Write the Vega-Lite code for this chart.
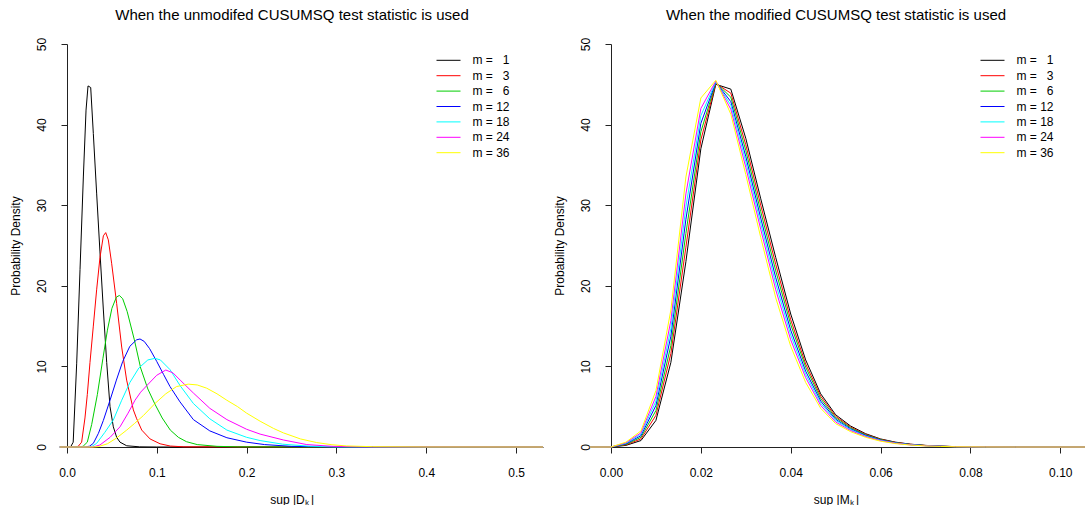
{
"$schema": "https://vega.github.io/schema/vega-lite/v6.json",
"padding": {"left": 9, "top": 8, "right": 0, "bottom": 0},
"background": "white",
"config": {
  "font": "Liberation Sans",
  "view": {"stroke": null},
  "axis": {"labelFont": "Liberation Sans", "labelFontSize": 12, "labelColor": "#000", "titleFont": "Liberation Sans", "titleFontSize": 12, "titleFontWeight": "normal", "titleColor": "#000", "domainColor": "#222", "tickColor": "#222", "grid": false, "tickSize": 6, "labelFlush": false, "labelOverlap": false},
  "title": {"font": "Liberation Sans", "fontSize": 15, "fontWeight": "normal", "color": "#000"},
  "legend": {"labelFont": "Liberation Sans", "labelFontSize": 12, "labelColor": "#000"}
},
"datasets": {
"left": [
{"m":1,"x":-0.008,"y":0},{"m":1,"x":0.004,"y":0},{"m":1,"x":0.0069,"y":0.6},{"m":1,"x":0.0108,"y":10.4},{"m":1,"x":0.0145,"y":22},{"m":1,"x":0.0182,"y":33.5},{"m":1,"x":0.0212,"y":41.8},{"m":1,"x":0.0234,"y":44.8},{"m":1,"x":0.0264,"y":44.6},{"m":1,"x":0.0293,"y":38.9},{"m":1,"x":0.033,"y":31.5},{"m":1,"x":0.0367,"y":24.2},{"m":1,"x":0.0405,"y":17},{"m":1,"x":0.0442,"y":10.5},{"m":1,"x":0.0479,"y":5},{"m":1,"x":0.0516,"y":2.5},{"m":1,"x":0.0553,"y":1.2},{"m":1,"x":0.059,"y":0.6},{"m":1,"x":0.0665,"y":0.15},{"m":1,"x":0.081,"y":0.02},{"m":1,"x":0.1,"y":0},{"m":1,"x":0.53,"y":0},
{"m":3,"x":-0.008,"y":0},{"m":3,"x":0.01,"y":0},{"m":3,"x":0.0126,"y":0.1},{"m":3,"x":0.0163,"y":0.6},{"m":3,"x":0.02,"y":3.6},{"m":3,"x":0.0226,"y":6.5},{"m":3,"x":0.0256,"y":10.5},{"m":3,"x":0.0293,"y":15},{"m":3,"x":0.033,"y":19.5},{"m":3,"x":0.0367,"y":23.5},{"m":3,"x":0.0405,"y":26.2},{"m":3,"x":0.0431,"y":26.6},{"m":3,"x":0.046,"y":25.7},{"m":3,"x":0.0497,"y":22.8},{"m":3,"x":0.0553,"y":17.8},{"m":3,"x":0.0609,"y":12.4},{"m":3,"x":0.0664,"y":8.3},{"m":3,"x":0.0739,"y":4.6},{"m":3,"x":0.0776,"y":3.5},{"m":3,"x":0.0832,"y":2.1},{"m":3,"x":0.0925,"y":1.0},{"m":3,"x":0.1036,"y":0.4},{"m":3,"x":0.115,"y":0.12},{"m":3,"x":0.13,"y":0.02},{"m":3,"x":0.53,"y":0},
{"m":6,"x":-0.008,"y":0},{"m":6,"x":0.015,"y":0},{"m":6,"x":0.018,"y":0.1},{"m":6,"x":0.0226,"y":0.6},{"m":6,"x":0.0275,"y":2.8},{"m":6,"x":0.0338,"y":6.5},{"m":6,"x":0.04,"y":11},{"m":6,"x":0.045,"y":14.5},{"m":6,"x":0.05,"y":17.2},{"m":6,"x":0.055,"y":18.6},{"m":6,"x":0.0583,"y":18.8},{"m":6,"x":0.062,"y":18.4},{"m":6,"x":0.067,"y":16.8},{"m":6,"x":0.075,"y":13.3},{"m":6,"x":0.082,"y":9.8},{"m":6,"x":0.09,"y":7.2},{"m":6,"x":0.098,"y":5.3},{"m":6,"x":0.106,"y":3.6},{"m":6,"x":0.115,"y":2.1},{"m":6,"x":0.124,"y":1.2},{"m":6,"x":0.133,"y":0.66},{"m":6,"x":0.145,"y":0.3},{"m":6,"x":0.167,"y":0.08},{"m":6,"x":0.19,"y":0.02},{"m":6,"x":0.53,"y":0},
{"m":12,"x":-0.008,"y":0},{"m":12,"x":0.02,"y":0},{"m":12,"x":0.025,"y":0.1},{"m":12,"x":0.0293,"y":0.45},{"m":12,"x":0.035,"y":1.7},{"m":12,"x":0.0405,"y":3.3},{"m":12,"x":0.0479,"y":5.8},{"m":12,"x":0.055,"y":8.3},{"m":12,"x":0.062,"y":10.6},{"m":12,"x":0.07,"y":12.5},{"m":12,"x":0.0775,"y":13.3},{"m":12,"x":0.0813,"y":13.4},{"m":12,"x":0.086,"y":13.1},{"m":12,"x":0.092,"y":12.2},{"m":12,"x":0.1,"y":10.6},{"m":12,"x":0.1075,"y":9.0},{"m":12,"x":0.1147,"y":7.5},{"m":12,"x":0.1258,"y":5.6},{"m":12,"x":0.1407,"y":3.4},{"m":12,"x":0.159,"y":2.0},{"m":12,"x":0.178,"y":1.15},{"m":12,"x":0.2,"y":0.6},{"m":12,"x":0.22,"y":0.3},{"m":12,"x":0.25,"y":0.08},{"m":12,"x":0.3,"y":0.01},{"m":12,"x":0.53,"y":0},
{"m":18,"x":-0.008,"y":0},{"m":18,"x":0.024,"y":0},{"m":18,"x":0.028,"y":0.1},{"m":18,"x":0.033,"y":0.45},{"m":18,"x":0.042,"y":1.8},{"m":18,"x":0.0516,"y":3.35},{"m":18,"x":0.0609,"y":5.8},{"m":18,"x":0.07,"y":8.0},{"m":18,"x":0.08,"y":9.8},{"m":18,"x":0.09,"y":10.8},{"m":18,"x":0.098,"y":11.0},{"m":18,"x":0.104,"y":10.8},{"m":18,"x":0.1147,"y":9.6},{"m":18,"x":0.126,"y":7.6},{"m":18,"x":0.1407,"y":5.4},{"m":18,"x":0.159,"y":3.5},{"m":18,"x":0.178,"y":2.1},{"m":18,"x":0.2,"y":1.2},{"m":18,"x":0.215,"y":0.8},{"m":18,"x":0.24,"y":0.35},{"m":18,"x":0.27,"y":0.1},{"m":18,"x":0.3,"y":0.02},{"m":18,"x":0.53,"y":0},
{"m":24,"x":-0.008,"y":0},{"m":24,"x":0.028,"y":0},{"m":24,"x":0.032,"y":0.1},{"m":24,"x":0.0367,"y":0.25},{"m":24,"x":0.048,"y":1.2},{"m":24,"x":0.059,"y":2.5},{"m":24,"x":0.068,"y":4.2},{"m":24,"x":0.0757,"y":5.8},{"m":24,"x":0.082,"y":6.8},{"m":24,"x":0.0887,"y":7.6},{"m":24,"x":0.0999,"y":8.9},{"m":24,"x":0.11,"y":9.55},{"m":24,"x":0.118,"y":9.2},{"m":24,"x":0.126,"y":8.3},{"m":24,"x":0.1407,"y":6.7},{"m":24,"x":0.159,"y":4.8},{"m":24,"x":0.178,"y":3.4},{"m":24,"x":0.2,"y":2.2},{"m":24,"x":0.215,"y":1.6},{"m":24,"x":0.241,"y":0.87},{"m":24,"x":0.267,"y":0.3},{"m":24,"x":0.296,"y":0.08},{"m":24,"x":0.33,"y":0.02},{"m":24,"x":0.53,"y":0},
{"m":36,"x":-0.008,"y":0},{"m":36,"x":0.03,"y":0},{"m":36,"x":0.035,"y":0.05},{"m":36,"x":0.045,"y":0.4},{"m":36,"x":0.055,"y":1.1},{"m":36,"x":0.0665,"y":2.1},{"m":36,"x":0.075,"y":2.9},{"m":36,"x":0.085,"y":3.9},{"m":36,"x":0.098,"y":5.4},{"m":36,"x":0.11,"y":6.6},{"m":36,"x":0.122,"y":7.5},{"m":36,"x":0.135,"y":7.8},{"m":36,"x":0.145,"y":7.7},{"m":36,"x":0.1555,"y":7.3},{"m":36,"x":0.167,"y":6.6},{"m":36,"x":0.178,"y":5.8},{"m":36,"x":0.19,"y":5.0},{"m":36,"x":0.2,"y":4.2},{"m":36,"x":0.215,"y":3.2},{"m":36,"x":0.23,"y":2.3},{"m":36,"x":0.241,"y":1.75},{"m":36,"x":0.26,"y":1.0},{"m":36,"x":0.278,"y":0.55},{"m":36,"x":0.295,"y":0.28},{"m":36,"x":0.311,"y":0.13},{"m":36,"x":0.34,"y":0.04},{"m":36,"x":0.4,"y":0.005},{"m":36,"x":0.53,"y":0}
],
"right": [
{"m":1,"x":-0.0047,"y":0},{"m":1,"x":0,"y":0},{"m":1,"x":0.00333,"y":0.2},{"m":1,"x":0.00667,"y":0.8},{"m":1,"x":0.01,"y":3.3},{"m":1,"x":0.01333,"y":10.5},{"m":1,"x":0.01667,"y":23.0},{"m":1,"x":0.02,"y":37.0},{"m":1,"x":0.02333,"y":45.0},{"m":1,"x":0.02667,"y":44.4},{"m":1,"x":0.03,"y":38.3},{"m":1,"x":0.03333,"y":30.8},{"m":1,"x":0.03667,"y":23.5},{"m":1,"x":0.04,"y":16.5},{"m":1,"x":0.04333,"y":10.8},{"m":1,"x":0.04667,"y":6.6},{"m":1,"x":0.05,"y":4.0},{"m":1,"x":0.05333,"y":2.6},{"m":1,"x":0.05667,"y":1.65},{"m":1,"x":0.06,"y":1.0},{"m":1,"x":0.06333,"y":0.6},{"m":1,"x":0.06667,"y":0.35},{"m":1,"x":0.07,"y":0.2},{"m":1,"x":0.07333,"y":0.1},{"m":1,"x":0.07667,"y":0.05},{"m":1,"x":0.08,"y":0.03},{"m":1,"x":0.08333,"y":0.01},{"m":1,"x":0.09,"y":0},{"m":1,"x":0.1055,"y":0},
{"m":3,"x":-0.0047,"y":0},{"m":3,"x":0,"y":0},{"m":3,"x":0.00333,"y":0.27},{"m":3,"x":0.00667,"y":1.0},{"m":3,"x":0.01,"y":3.93},{"m":3,"x":0.01333,"y":11.6},{"m":3,"x":0.01667,"y":24.8},{"m":3,"x":0.02,"y":38.1},{"m":3,"x":0.02333,"y":45.1},{"m":3,"x":0.02667,"y":43.9},{"m":3,"x":0.03,"y":37.5},{"m":3,"x":0.03333,"y":30.0},{"m":3,"x":0.03667,"y":22.65},{"m":3,"x":0.04,"y":15.8},{"m":3,"x":0.04333,"y":10.3},{"m":3,"x":0.04667,"y":6.3},{"m":3,"x":0.05,"y":3.8},{"m":3,"x":0.05333,"y":2.48},{"m":3,"x":0.05667,"y":1.57},{"m":3,"x":0.06,"y":0.95},{"m":3,"x":0.06333,"y":0.57},{"m":3,"x":0.06667,"y":0.33},{"m":3,"x":0.07,"y":0.19},{"m":3,"x":0.07333,"y":0.1},{"m":3,"x":0.07667,"y":0.05},{"m":3,"x":0.08,"y":0.03},{"m":3,"x":0.08333,"y":0.01},{"m":3,"x":0.09,"y":0},{"m":3,"x":0.1055,"y":0},
{"m":6,"x":-0.0047,"y":0},{"m":6,"x":0,"y":0},{"m":6,"x":0.00333,"y":0.33},{"m":6,"x":0.00667,"y":1.2},{"m":6,"x":0.01,"y":4.52},{"m":6,"x":0.01333,"y":12.6},{"m":6,"x":0.01667,"y":26.5},{"m":6,"x":0.02,"y":39.1},{"m":6,"x":0.02333,"y":45.2},{"m":6,"x":0.02667,"y":43.4},{"m":6,"x":0.03,"y":36.8},{"m":6,"x":0.03333,"y":29.2},{"m":6,"x":0.03667,"y":21.85},{"m":6,"x":0.04,"y":15.2},{"m":6,"x":0.04333,"y":9.9},{"m":6,"x":0.04667,"y":6.0},{"m":6,"x":0.05,"y":3.64},{"m":6,"x":0.05333,"y":2.37},{"m":6,"x":0.05667,"y":1.5},{"m":6,"x":0.06,"y":0.91},{"m":6,"x":0.06333,"y":0.54},{"m":6,"x":0.06667,"y":0.31},{"m":6,"x":0.07,"y":0.18},{"m":6,"x":0.07333,"y":0.09},{"m":6,"x":0.07667,"y":0.05},{"m":6,"x":0.08,"y":0.03},{"m":6,"x":0.08333,"y":0.01},{"m":6,"x":0.09,"y":0},{"m":6,"x":0.1055,"y":0},
{"m":12,"x":-0.0047,"y":0},{"m":12,"x":0,"y":0},{"m":12,"x":0.00333,"y":0.4},{"m":12,"x":0.00667,"y":1.4},{"m":12,"x":0.01,"y":5.15},{"m":12,"x":0.01333,"y":13.75},{"m":12,"x":0.01667,"y":28.25},{"m":12,"x":0.02,"y":40.15},{"m":12,"x":0.02333,"y":45.25},{"m":12,"x":0.02667,"y":42.85},{"m":12,"x":0.03,"y":36.05},{"m":12,"x":0.03333,"y":28.4},{"m":12,"x":0.03667,"y":21.0},{"m":12,"x":0.04,"y":14.5},{"m":12,"x":0.04333,"y":9.4},{"m":12,"x":0.04667,"y":5.7},{"m":12,"x":0.05,"y":3.45},{"m":12,"x":0.05333,"y":2.25},{"m":12,"x":0.05667,"y":1.43},{"m":12,"x":0.06,"y":0.86},{"m":12,"x":0.06333,"y":0.51},{"m":12,"x":0.06667,"y":0.3},{"m":12,"x":0.07,"y":0.17},{"m":12,"x":0.07333,"y":0.09},{"m":12,"x":0.07667,"y":0.04},{"m":12,"x":0.08,"y":0.025},{"m":12,"x":0.08333,"y":0.01},{"m":12,"x":0.09,"y":0},{"m":12,"x":0.1055,"y":0},
{"m":18,"x":-0.0047,"y":0},{"m":18,"x":0,"y":0},{"m":18,"x":0.00333,"y":0.46},{"m":18,"x":0.00667,"y":1.58},{"m":18,"x":0.01,"y":5.7},{"m":18,"x":0.01333,"y":14.7},{"m":18,"x":0.01667,"y":29.8},{"m":18,"x":0.02,"y":41.1},{"m":18,"x":0.02333,"y":45.3},{"m":18,"x":0.02667,"y":42.4},{"m":18,"x":0.03,"y":35.4},{"m":18,"x":0.03333,"y":27.7},{"m":18,"x":0.03667,"y":20.25},{"m":18,"x":0.04,"y":13.9},{"m":18,"x":0.04333,"y":9.0},{"m":18,"x":0.04667,"y":5.43},{"m":18,"x":0.05,"y":3.3},{"m":18,"x":0.05333,"y":2.15},{"m":18,"x":0.05667,"y":1.36},{"m":18,"x":0.06,"y":0.82},{"m":18,"x":0.06333,"y":0.48},{"m":18,"x":0.06667,"y":0.28},{"m":18,"x":0.07,"y":0.16},{"m":18,"x":0.07333,"y":0.08},{"m":18,"x":0.07667,"y":0.04},{"m":18,"x":0.08,"y":0.025},{"m":18,"x":0.08333,"y":0.01},{"m":18,"x":0.09,"y":0},{"m":18,"x":0.1055,"y":0},
{"m":24,"x":-0.0047,"y":0},{"m":24,"x":0,"y":0},{"m":24,"x":0.00333,"y":0.52},{"m":24,"x":0.00667,"y":1.76},{"m":24,"x":0.01,"y":6.26},{"m":24,"x":0.01333,"y":15.7},{"m":24,"x":0.01667,"y":31.4},{"m":24,"x":0.02,"y":42.0},{"m":24,"x":0.02333,"y":45.4},{"m":24,"x":0.02667,"y":41.9},{"m":24,"x":0.03,"y":34.7},{"m":24,"x":0.03333,"y":27.0},{"m":24,"x":0.03667,"y":19.5},{"m":24,"x":0.04,"y":13.3},{"m":24,"x":0.04333,"y":8.6},{"m":24,"x":0.04667,"y":5.16},{"m":24,"x":0.05,"y":3.1},{"m":24,"x":0.05333,"y":2.04},{"m":24,"x":0.05667,"y":1.29},{"m":24,"x":0.06,"y":0.78},{"m":24,"x":0.06333,"y":0.46},{"m":24,"x":0.06667,"y":0.26},{"m":24,"x":0.07,"y":0.15},{"m":24,"x":0.07333,"y":0.08},{"m":24,"x":0.07667,"y":0.04},{"m":24,"x":0.08,"y":0.02},{"m":24,"x":0.08333,"y":0.01},{"m":24,"x":0.09,"y":0},{"m":24,"x":0.1055,"y":0},
{"m":36,"x":-0.0047,"y":0},{"m":36,"x":0,"y":0},{"m":36,"x":0.00333,"y":0.6},{"m":36,"x":0.00667,"y":2.0},{"m":36,"x":0.01,"y":7.0},{"m":36,"x":0.01333,"y":17.0},{"m":36,"x":0.01667,"y":33.5},{"m":36,"x":0.02,"y":43.3},{"m":36,"x":0.02333,"y":45.5},{"m":36,"x":0.02667,"y":41.3},{"m":36,"x":0.03,"y":33.8},{"m":36,"x":0.03333,"y":26.0},{"m":36,"x":0.03667,"y":18.5},{"m":36,"x":0.04,"y":12.5},{"m":36,"x":0.04333,"y":8.0},{"m":36,"x":0.04667,"y":4.8},{"m":36,"x":0.05,"y":2.9},{"m":36,"x":0.05333,"y":1.9},{"m":36,"x":0.05667,"y":1.2},{"m":36,"x":0.06,"y":0.72},{"m":36,"x":0.06333,"y":0.42},{"m":36,"x":0.06667,"y":0.24},{"m":36,"x":0.07,"y":0.13},{"m":36,"x":0.07333,"y":0.07},{"m":36,"x":0.07667,"y":0.03},{"m":36,"x":0.08,"y":0.02},{"m":36,"x":0.08333,"y":0.005},{"m":36,"x":0.09,"y":0},{"m":36,"x":0.1055,"y":0}
]
},
"bounds": "flush",
"spacing": 68,
"resolve": {"scale": {"color": "independent", "x": "independent", "y": "independent"}, "legend": {"color": "independent"}},
"hconcat": [
{
  "width": 476, "height": 403,
  "title": {"text": "When the unmodifed CUSUMSQ test statistic is used", "frame": "group", "anchor": "middle", "dx": -13, "offset": 2, "baseline": "alphabetic"},
  "data": {"name": "left"},
  "mark": {"type": "line", "strokeWidth": 1, "clip": false},
  "encoding": {
    "x": {"field": "x", "type": "quantitative", "scale": {"domain": [0, 0.53], "nice": false, "zero": false},
      "axis": {"values": [0, 0.1, 0.2, 0.3, 0.4, 0.5], "format": ".1f", "title": "sup |Dₖ\u2009|", "titleX": 224.7, "titleY": 56, "titleAlign": "center", "titleBaseline": "alphabetic", "labelBaseline": "alphabetic", "labelPadding": 23}},
    "y": {"field": "y", "type": "quantitative", "scale": {"domain": [0, 50], "nice": false},
      "axis": {"values": [0, 10, 20, 30, 40, 50], "title": "Probability Density", "labelAngle": -90, "labelAlign": "center", "labelBaseline": "alphabetic", "labelPadding": 16, "titleX": -48, "titleY": 201.5, "titleAlign": "center", "titleBaseline": "alphabetic", "titleAngle": -90}},
    "color": {"field": "m", "type": "ordinal", "scale": {"domain": [1, 3, 6, 12, 18, 24, 36], "range": ["#000000", "#FF0000", "#00CD00", "#0000FF", "#00FFFF", "#FF00FF", "#FFFF00"]},
      "legend": {"orient": "none", "legendX": 375.5, "legendY": 10.3, "title": null, "padding": 0, "symbolType": "M-4,0H4", "symbolSize": 36, "symbolStrokeWidth": 1, "labelOffset": 18, "rowPadding": 3.4, "labelExpr": "'m = ' + (datum.value < 10 ? '\u00a0\u00a0' : '') + datum.value"}}
  }
},
{
  "width": 474, "height": 403,
  "title": {"text": "When the modified CUSUMSQ test statistic is used", "frame": "group", "anchor": "middle", "dx": -12, "offset": 2, "baseline": "alphabetic"},
  "data": {"name": "right"},
  "mark": {"type": "line", "strokeWidth": 1, "clip": false},
  "encoding": {
    "x": {"field": "x", "type": "quantitative", "scale": {"domain": [0, 0.1055], "nice": false, "zero": false},
      "axis": {"values": [0, 0.02, 0.04, 0.06, 0.08, 0.1], "format": ".2f", "title": "sup |Mₖ\u2009|", "titleX": 225, "titleY": 56, "titleAlign": "center", "titleBaseline": "alphabetic", "labelBaseline": "alphabetic", "labelPadding": 23}},
    "y": {"field": "y", "type": "quantitative", "scale": {"domain": [0, 50], "nice": false},
      "axis": {"values": [0, 10, 20, 30, 40, 50], "title": "Probability Density", "labelAngle": -90, "labelAlign": "center", "labelBaseline": "alphabetic", "labelPadding": 16, "titleX": -48, "titleY": 201.5, "titleAlign": "center", "titleBaseline": "alphabetic", "titleAngle": -90}},
    "color": {"field": "m", "type": "ordinal", "scale": {"domain": [1, 3, 6, 12, 18, 24, 36], "range": ["#000000", "#FF0000", "#00CD00", "#0000FF", "#00FFFF", "#FF00FF", "#FFFF00"]},
      "legend": {"orient": "none", "legendX": 375.5, "legendY": 10.3, "title": null, "padding": 0, "symbolType": "M-4,0H4", "symbolSize": 36, "symbolStrokeWidth": 1, "labelOffset": 18, "rowPadding": 3.4, "labelExpr": "'m = ' + (datum.value < 10 ? '\u00a0\u00a0' : '') + datum.value"}}
  }
}
]
}
